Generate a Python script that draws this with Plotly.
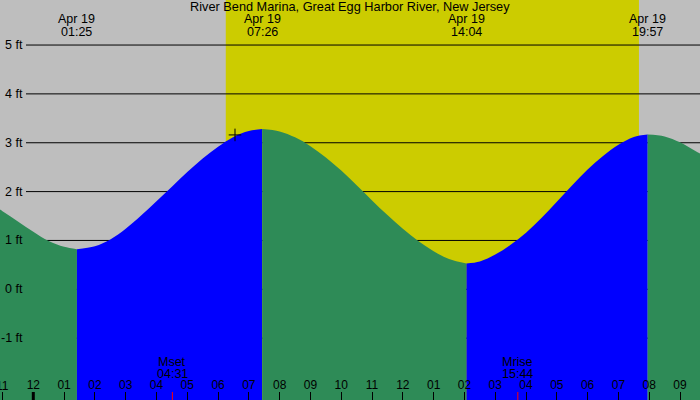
import plotly.graph_objects as go
import pandas as pd

# ---------------- data ----------------
title_text = "River Bend Marina, Great Egg Harbor River, New Jersey"

tide_times = [
    "2024-04-18 22:30", "2024-04-18 23:00", "2024-04-18 23:30",
    "2024-04-19 00:00", "2024-04-19 00:30", "2024-04-19 01:00", "2024-04-19 01:25",
    "2024-04-19 02:00", "2024-04-19 02:30", "2024-04-19 03:00", "2024-04-19 03:30",
    "2024-04-19 04:00", "2024-04-19 04:30", "2024-04-19 05:00", "2024-04-19 05:30",
    "2024-04-19 06:00", "2024-04-19 06:30", "2024-04-19 07:00", "2024-04-19 07:26",
    "2024-04-19 08:00", "2024-04-19 08:30", "2024-04-19 09:00", "2024-04-19 09:30",
    "2024-04-19 10:00", "2024-04-19 10:30", "2024-04-19 11:00", "2024-04-19 11:30",
    "2024-04-19 12:00", "2024-04-19 12:30", "2024-04-19 13:00", "2024-04-19 13:30",
    "2024-04-19 14:04",
    "2024-04-19 14:30", "2024-04-19 15:00", "2024-04-19 15:30", "2024-04-19 16:00",
    "2024-04-19 16:30", "2024-04-19 17:00", "2024-04-19 17:30", "2024-04-19 18:00",
    "2024-04-19 18:30", "2024-04-19 19:00", "2024-04-19 19:30", "2024-04-19 19:57",
    "2024-04-19 20:30", "2024-04-19 21:00", "2024-04-19 21:30", "2024-04-19 22:00",
]
tide_heights = [
    1.80, 1.60, 1.39,
    1.18, 0.99, 0.87, 0.82,
    0.88, 1.02, 1.24, 1.51,
    1.80, 2.10, 2.40, 2.68,
    2.92, 3.12, 3.24, 3.28,
    3.23, 3.11, 2.93, 2.70,
    2.43, 2.13, 1.82, 1.52,
    1.24, 0.99, 0.78, 0.62,
    0.53,
    0.57, 0.71, 0.91, 1.16,
    1.46, 1.79, 2.13, 2.45,
    2.73, 2.96, 3.12, 3.17,
    3.13, 3.01, 2.83, 2.66,
]

extreme_times = ["2024-04-19 01:25", "2024-04-19 07:26", "2024-04-19 14:04", "2024-04-19 19:57"]

sunrise = "2024-04-19 06:15"
sunset = "2024-04-19 19:40"

moon_events = ["Mset", "Mrise"]
moon_times = ["2024-04-19 04:31", "2024-04-19 15:44"]

marker_time = ["2024-04-19 06:33"]
marker_height = [3.16]

grid_levels = [5, 4, 3, 2, 1, 0, -1]
grid_labels = ["5 ft", "4 ft", "3 ft", "2 ft", "1 ft", "0 ft", "-1 ft"]

x_range = ["2024-04-18 22:55:07", "2024-04-19 21:38:57"]
y_range = [-2.266, 5.922]
midnight = "2024-04-19 00:00"
edge_tick = "2024-04-18 23:00"   # first hour tick, cut by the left edge

# ---------------- style ----------------
W, H = 700, 400
GREY = "#BEBEBE"
YELLOW = "#CCCC00"
GREEN = "#2E8B57"
BLUE = "#0000FF"
FAM = "Liberation Sans, Arial, sans-serif"
FONT = dict(family=FAM, size=12.5, color="black")
TFONT = dict(family=FAM, size=12.75, color="black")
KFONT = dict(family=FAM, size=12, color="black")
BASE = y_range[0] - 1.0

fig = go.Figure()

# split the curve into rising / falling segments at the extremes
split_idx = [0] + [tide_times.index(t) for t in extreme_times] + [len(tide_times) - 1]
for a, b in zip(split_idx[:-1], split_idx[1:]):
    xs = tide_times[a:b + 1]
    ys = tide_heights[a:b + 1]
    color = BLUE if ys[-1] > ys[0] else GREEN
    fig.add_trace(go.Scatter(x=[xs[0], xs[-1]], y=[BASE, BASE], mode="lines",
                             line=dict(width=0), hoverinfo="skip", showlegend=False))
    fig.add_trace(go.Scatter(x=xs, y=ys, mode="lines", fill="tonexty",
                             fillcolor=color, line=dict(width=0, shape="spline", color=color),
                             hoverinfo="skip", showlegend=False))

fig.add_trace(go.Scatter(x=marker_time, y=marker_height, mode="markers",
                         marker=dict(symbol="cross-thin", size=9,
                                     line=dict(width=1, color="black")),
                         hoverinfo="skip", showlegend=False))

shapes = [dict(type="rect", xref="x", yref="paper", x0=sunrise, x1=sunset, y0=0, y1=1,
               fillcolor=YELLOW, line=dict(width=0), layer="below")]
for v in grid_levels:
    shapes.append(dict(type="line", xref="paper", yref="y", x0=26 / W, x1=1, y0=v, y1=v,
                       line=dict(color="black", width=1), layer="below"))
shapes.append(dict(type="line", xref="x", yref="paper", x0=midnight, x1=midnight,
                   y0=0, y1=8 / H, line=dict(color="black", width=3), layer="above"))
for t in moon_times:
    shapes.append(dict(type="line", xref="x", yref="paper", x0=t, x1=t,
                       y0=0, y1=8 / H, line=dict(color="red", width=1), layer="above"))

annotations = [dict(text=title_text, xref="paper", yref="paper", x=0.5, y=1 - 7 / H,
                    xanchor="center", yanchor="middle", showarrow=False, font=TFONT)]
for t in extreme_times:
    ts = pd.Timestamp(t)
    annotations.append(dict(text=ts.strftime("%b %d"), xref="x", yref="paper", x=t,
                            y=1 - 19 / H, xanchor="center", yanchor="middle",
                            showarrow=False, font=FONT))
    annotations.append(dict(text=ts.strftime("%H:%M"), xref="x", yref="paper", x=t,
                            y=1 - 32 / H, xanchor="center", yanchor="middle",
                            showarrow=False, font=FONT))
for name, t in zip(moon_events, moon_times):
    annotations.append(dict(text=name, xref="x", yref="paper", x=t, y=1 - 361.5 / H,
                            xanchor="center", yanchor="middle", showarrow=False, font=FONT))
    annotations.append(dict(text=pd.Timestamp(t).strftime("%H:%M"), xref="x", yref="paper",
                            x=t, y=1 - 373.5 / H, xanchor="center", yanchor="middle",
                            showarrow=False, font=FONT))
for v, lab in zip(grid_levels, grid_labels):
    annotations.append(dict(text=lab, xref="paper", yref="y", x=25 / W, y=v,
                            xanchor="right", yanchor="middle", showarrow=False, font=FONT))
# the hour label that plotly hides because it is cut by the left edge
annotations.append(dict(text=pd.Timestamp(edge_tick).strftime("%I"), xref="x", yref="paper",
                        x=edge_tick, y=1 - 385.5 / H, xanchor="center", yanchor="middle",
                        showarrow=False, font=KFONT))

fig.update_layout(
    width=W, height=H,
    margin=dict(l=0, r=0, t=0, b=0),
    paper_bgcolor=GREY, plot_bgcolor=GREY,
    showlegend=False,
    shapes=shapes, annotations=annotations,
    xaxis=dict(type="date", range=x_range, showgrid=False, zeroline=False,
               showline=False, ticks="inside", ticklen=8, tickwidth=1, tickcolor="black",
               dtick=3600000, tick0=midnight, tickformat="%I",
               ticklabelposition="inside", tickfont=KFONT, fixedrange=True),
    yaxis=dict(range=y_range, showgrid=False, zeroline=False, showline=False,
               showticklabels=False, ticks="", fixedrange=True),
)

fig.write_html("out.html")
